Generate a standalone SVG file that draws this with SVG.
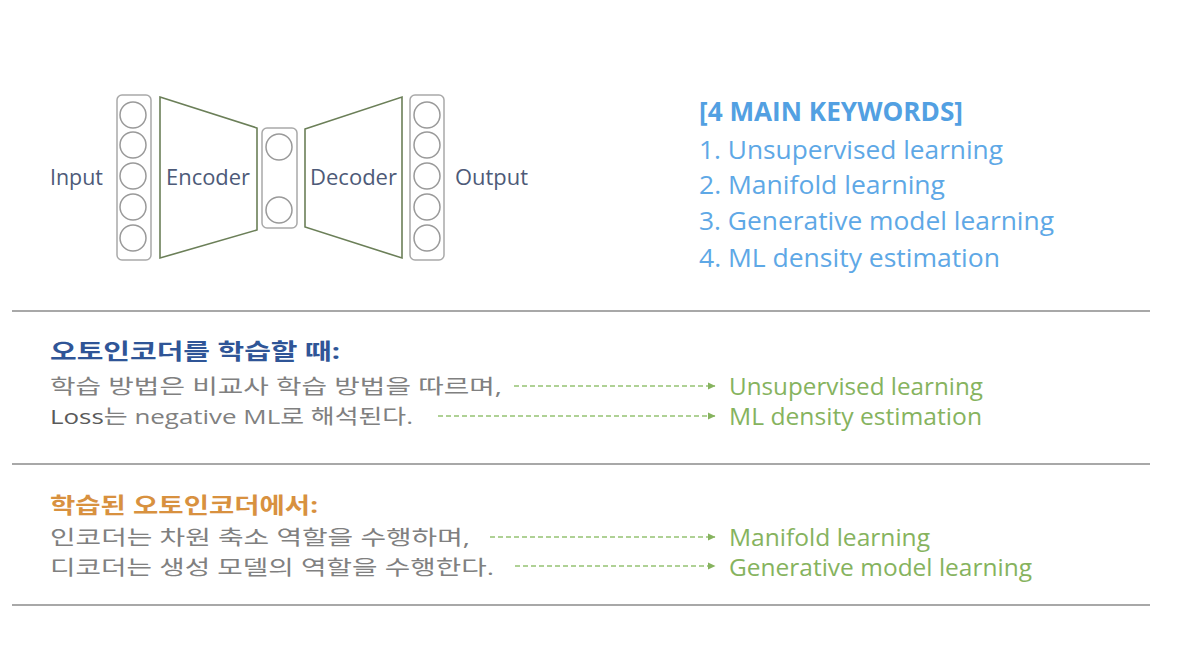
<svg xmlns="http://www.w3.org/2000/svg" width="1188" height="646" viewBox="0 0 1188 646">
<style>
.col{fill:none;stroke:#a9a9a9;stroke-width:1.5}
.neu{fill:none;stroke:#9a9a9a;stroke-width:1.5}
.trap{fill:none;stroke:#6b7f58;stroke-width:1.6}
.lbl{font-family:"Open Sans","Noto Sans",sans-serif;font-size:21px;fill:#4d5a78}
.kw{font-family:"Open Sans","Noto Sans",sans-serif;font-size:26px;fill:#5ea8e6}
.kwt{font-weight:700;fill:#52a0e2}
.kr{font-family:"Open Sans","Noto Sans CJK KR",sans-serif;font-size:20.5px;fill:#808080}
.krt{font-weight:700;font-size:22px}
.grn{font-family:"Open Sans","Noto Sans",sans-serif;font-size:24px;fill:#86b35e}
.sep{stroke:#a8a8a8;stroke-width:2}
.dash{fill:none;stroke:#95c273;stroke-width:1.3;stroke-dasharray:5 3}
</style>
<defs>
<marker id="ah" markerWidth="8" markerHeight="8" refX="7" refY="4" orient="auto" markerUnits="userSpaceOnUse">
<path d="M0,0.5 L7.5,4 L0,7.5 Z" fill="#86b35e"/>
</marker>
</defs>
<rect width="1188" height="646" fill="#ffffff"/>

<g id="input-layer">
<rect class="col" x="117" y="95" width="34" height="165" rx="5"/>
<circle class="neu" cx="133" cy="115" r="13"/>
<circle class="neu" cx="133" cy="145" r="13"/>
<circle class="neu" cx="133" cy="176" r="13"/>
<circle class="neu" cx="133" cy="207" r="13"/>
<circle class="neu" cx="133" cy="238" r="13"/>
</g>
<g id="encoder">
<polygon class="trap" points="160,97 257,128 257,230 160,258"/>
<text class="lbl" x="166" y="185" textLength="84" lengthAdjust="spacingAndGlyphs">Encoder</text>
</g>
<g id="latent-layer">
<rect class="col" x="262" y="128" width="35" height="100" rx="5"/>
<circle class="neu" cx="279" cy="147" r="13"/>
<circle class="neu" cx="279" cy="210" r="13"/>
</g>
<g id="decoder">
<polygon class="trap" points="305,129 402,97 402,258 305,227"/>
<text class="lbl" x="310" y="185" textLength="87" lengthAdjust="spacingAndGlyphs">Decoder</text>
</g>
<g id="output-layer">
<rect class="col" x="410" y="95" width="34" height="165" rx="5"/>
<circle class="neu" cx="427" cy="115" r="13"/>
<circle class="neu" cx="427" cy="145" r="13"/>
<circle class="neu" cx="427" cy="176" r="13"/>
<circle class="neu" cx="427" cy="207" r="13"/>
<circle class="neu" cx="427" cy="238" r="13"/>
</g>
<g id="io-labels">
<text class="lbl" x="50" y="185" textLength="53" lengthAdjust="spacingAndGlyphs">Input</text>
<text class="lbl" x="455" y="185" textLength="73" lengthAdjust="spacingAndGlyphs">Output</text>
</g>

<g id="keywords">
<text class="kw kwt" x="699" y="121" textLength="264" lengthAdjust="spacingAndGlyphs">[4 MAIN KEYWORDS]</text>
<text class="kw" x="699" y="159" textLength="304" lengthAdjust="spacingAndGlyphs">1. Unsupervised learning</text>
<text class="kw" x="699" y="194" textLength="246" lengthAdjust="spacingAndGlyphs">2. Manifold learning</text>
<text class="kw" x="699" y="230" textLength="355" lengthAdjust="spacingAndGlyphs">3. Generative model learning</text>
<text class="kw" x="699" y="267" textLength="301" lengthAdjust="spacingAndGlyphs">4. ML density estimation</text>
</g>

<g id="separators">
<line class="sep" x1="12" y1="311" x2="1150" y2="311"/>
<line class="sep" x1="12" y1="464" x2="1150" y2="464"/>
<line class="sep" x1="12" y1="605" x2="1150" y2="605"/>
</g>

<g id="section-training">
<text class="kr krt" x="50" y="359" style="fill:#2f5597" textLength="290" lengthAdjust="spacingAndGlyphs">오토인코더를 학습할 때:</text>
<text class="kr" x="50" y="394" textLength="452" lengthAdjust="spacingAndGlyphs">학습 방법은 비교사 학습 방법을 따르며,</text>
<text class="kr" x="50" y="424" textLength="363" lengthAdjust="spacingAndGlyphs"><tspan style="fill:#5a5a5a">Loss</tspan>는 negative ML로 해석된다.</text>
<text class="grn" x="729" y="395" textLength="254" lengthAdjust="spacingAndGlyphs">Unsupervised learning</text>
<text class="grn" x="729" y="425" textLength="253" lengthAdjust="spacingAndGlyphs">ML density estimation</text>
</g>

<g id="section-trained">
<text class="kr krt" x="50" y="513" style="fill:#d8913f" textLength="268" lengthAdjust="spacingAndGlyphs">학습된 오토인코더에서:</text>
<text class="kr" x="50" y="545" textLength="420" lengthAdjust="spacingAndGlyphs">인코더는 차원 축소 역할을 수행하며,</text>
<text class="kr" x="50" y="575" textLength="444" lengthAdjust="spacingAndGlyphs">디코더는 생성 모델의 역할을 수행한다.</text>
<text class="grn" x="729" y="546" textLength="201" lengthAdjust="spacingAndGlyphs">Manifold learning</text>
<text class="grn" x="729" y="576" textLength="303" lengthAdjust="spacingAndGlyphs">Generative model learning</text>
</g>

<g id="connectors">
<line class="dash" x1="514" y1="386" x2="715" y2="386" marker-end="url(#ah)"/>
<line class="dash" x1="438" y1="416" x2="715" y2="416" marker-end="url(#ah)"/>
<line class="dash" x1="490" y1="537" x2="715" y2="537" marker-end="url(#ah)"/>
<line class="dash" x1="515" y1="566" x2="715" y2="566" marker-end="url(#ah)"/>
</g>
</svg>
